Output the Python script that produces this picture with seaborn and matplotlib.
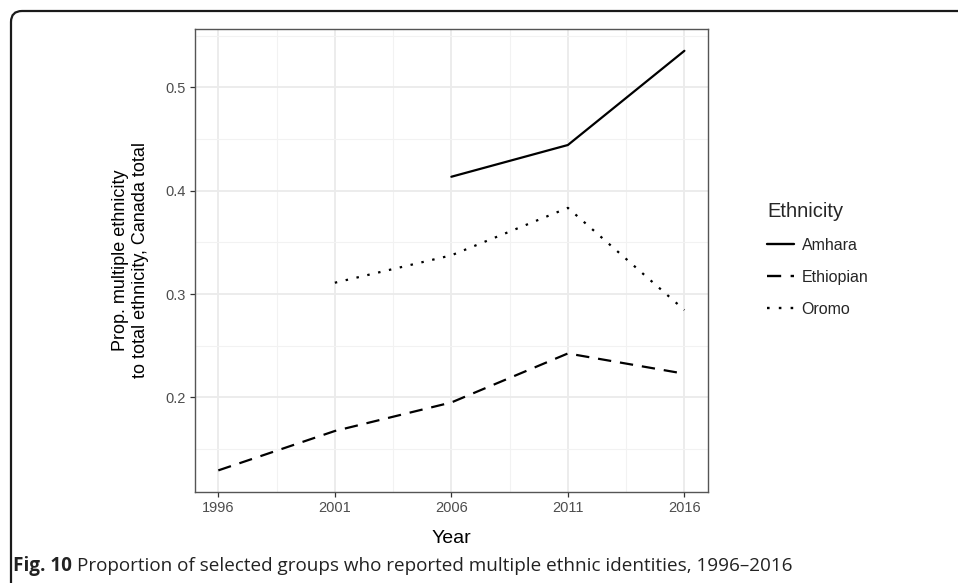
import matplotlib
matplotlib.use("Agg")
import matplotlib.pyplot as plt
import seaborn as sns
import pandas as pd
import numpy as np
from matplotlib.patches import FancyBboxPatch
from matplotlib.transforms import IdentityTransform
from matplotlib.ticker import FixedLocator

# ---- data ----
years_amhara = [2006, 2011, 2016]
amhara = [0.4135, 0.4442, 0.5353]
years_ethiopian = [1996, 2001, 2006, 2011, 2016]
ethiopian = [0.1295, 0.1676, 0.1952, 0.2426, 0.2230]
years_oromo = [2001, 2006, 2011, 2016]
oromo = [0.3110, 0.3375, 0.3834, 0.2846]
groups = ["Amhara", "Ethiopian", "Oromo"]
x_ticks = [1996, 2001, 2006, 2011, 2016]
y_ticks = [0.2, 0.3, 0.4, 0.5]

df = pd.concat([
    pd.DataFrame({"Year": years_amhara, "value": amhara, "Ethnicity": "Amhara"}),
    pd.DataFrame({"Year": years_ethiopian, "value": ethiopian, "Ethnicity": "Ethiopian"}),
    pd.DataFrame({"Year": years_oromo, "value": oromo, "Ethnicity": "Oromo"}),
], ignore_index=True)

sns.set_theme(style="white")
plt.rcParams["font.family"] = ["Liberation Sans", "DejaVu Sans"]

W, H = 958, 583
fig = plt.figure(figsize=(W / 100, H / 100), dpi=100)
ax = fig.add_axes([195 / W, 1 - 492 / H, (707.7 - 195) / W, (492 - 29) / H])

dashes = {"Amhara": "", "Ethiopian": (6, 4), "Oromo": (1.1, 3.9)}
sns.lineplot(data=df, x="Year", y="value", style="Ethnicity", style_order=groups,
             dashes=dashes, color="black", linewidth=1.6, ax=ax, legend=True)

ax.set_xlim(1995, 2017)
ax.set_ylim(0.1086, 0.5564)
ax.xaxis.set_major_locator(FixedLocator(x_ticks))
ax.xaxis.set_minor_locator(FixedLocator([1998.5, 2003.5, 2008.5, 2013.5]))
ax.yaxis.set_major_locator(FixedLocator(y_ticks))
ax.yaxis.set_minor_locator(FixedLocator([0.15, 0.25, 0.35, 0.45, 0.55]))
ax.set_xticklabels([str(v) for v in x_ticks])
ax.set_yticklabels([f"{v:.1f}" for v in y_ticks])

ax.grid(which="major", color="#EBEBEB", linewidth=1.3)
ax.grid(which="minor", color="#F2F2F2", linewidth=0.8)
ax.set_axisbelow(True)
for s in ax.spines.values():
    s.set_visible(True)
    s.set_color("#555555")
    s.set_linewidth(1.0)

ax.tick_params(axis="both", which="major", length=3.5, width=0.9, color="#333333",
               labelsize=10.5, labelcolor="#4D4D4D", pad=3, bottom=True, left=True)
ax.tick_params(axis="both", which="minor", length=0)

ax.set_xlabel("Year", fontsize=14, color="black", labelpad=11)
ax.set_ylabel("Prop. multiple ethnicity\nto total ethnicity, Canada total",
              fontsize=13, color="black", labelpad=12, linespacing=1.2)

leg = ax.legend(title="Ethnicity", loc="upper left", bbox_to_anchor=(1.116, 0.626),
                frameon=False, fontsize=11.5, title_fontsize=14.5, handlelength=1.65,
                labelspacing=1.07, handletextpad=0.5, borderaxespad=0, borderpad=0)
leg._legend_box.align = "left"
leg._legend_box.sep = 12
for line in leg.get_lines():
    line.set_linewidth(1.7)
    line.set_color("black")

# figure frame (rounded top-left corner)
frame = FancyBboxPatch((11, -50), 1000, H - 11 + 50,
                       boxstyle="round,pad=0,rounding_size=11",
                       transform=IdentityTransform(), fill=False,
                       edgecolor="#1a1a1a", linewidth=1.6, clip_on=False)
fig.patches.append(frame)

cap_fam = ["Open Sans", "DejaVu Sans"]
t1 = fig.text(13 / W, 1 - 566 / H, "Fig. 10", fontsize=13.6, fontweight="bold",
              family=cap_fam, va="center", ha="left", color="#222222")
fig.canvas.draw()
bb = t1.get_window_extent(renderer=fig.canvas.get_renderer())
fig.text((bb.x1 + 5) / W, 1 - 566 / H,
         "Proportion of selected groups who reported multiple ethnic identities, 1996–2016",
         fontsize=13.6, family=cap_fam, va="center", ha="left", color="#222222")

fig.savefig("out.png", dpi=100)
